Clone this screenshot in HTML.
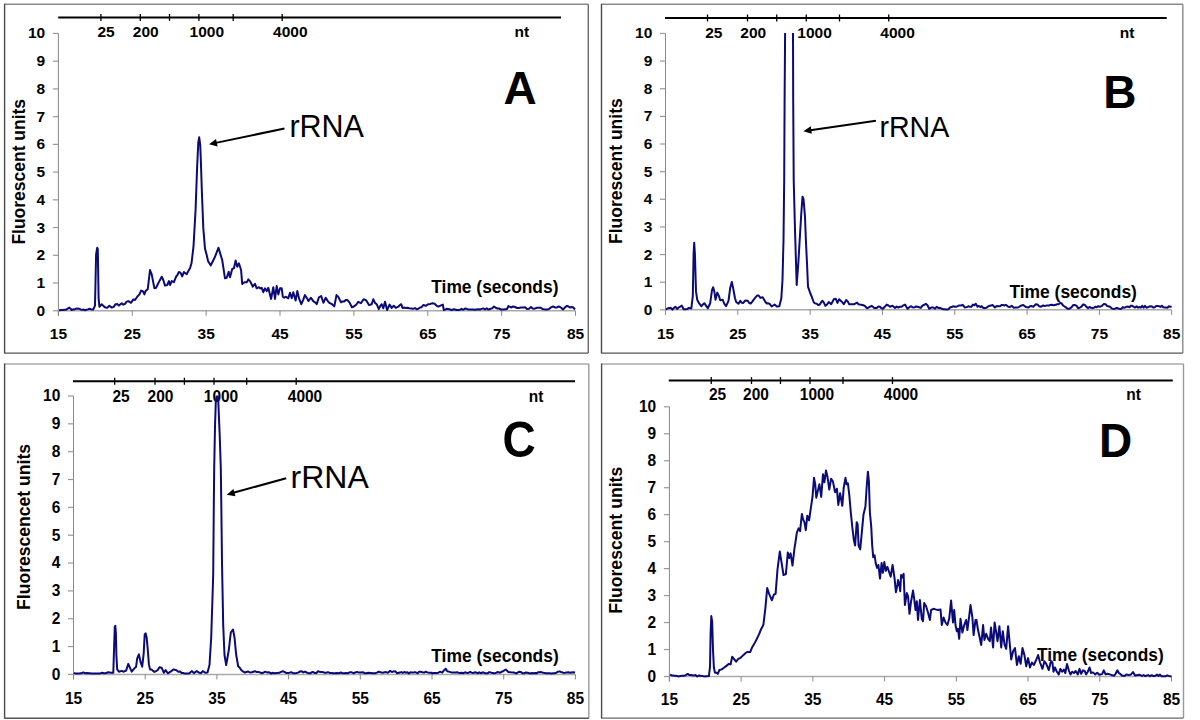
<!DOCTYPE html><html><head><meta charset="utf-8"><style>html,body{margin:0;padding:0;background:#fff;width:1200px;height:720px;overflow:hidden}svg{display:block}text{font-family:"Liberation Sans",sans-serif}</style></head><body>
<svg width="1200" height="720" viewBox="0 0 1200 720">
<rect width="1200" height="720" fill="#fff"/>
<defs><clipPath id="cA"><rect x="55.4" y="32.96" width="523.1" height="285.29"/></clipPath><clipPath id="cB"><rect x="662.5" y="32.96" width="512.2" height="284.39000000000004"/></clipPath><clipPath id="cC"><rect x="70.5" y="395.5" width="507.9" height="286.4"/></clipPath><clipPath id="cD"><rect x="666.4" y="406.3" width="508.1" height="277.7"/></clipPath></defs>
<line x1="4.6" y1="4.3" x2="588.3" y2="4.3" stroke="#8a8a8a" stroke-width="1.5"/>
<line x1="588.3" y1="4.3" x2="588.3" y2="353.1" stroke="#6a6a6a" stroke-width="1.4"/>
<line x1="4.6" y1="353.1" x2="588.3" y2="353.1" stroke="#555" stroke-width="1.4"/>
<line x1="4.6" y1="3.8" x2="4.6" y2="353.6" stroke="#4a4a4a" stroke-width="1.4"/>
<line x1="58.2" y1="17.4" x2="561" y2="17.4" stroke="#000" stroke-width="2"/>
<line x1="100.9" y1="13.899999999999999" x2="100.9" y2="20.9" stroke="#000" stroke-width="1.3"/>
<line x1="140.3" y1="13.899999999999999" x2="140.3" y2="20.9" stroke="#000" stroke-width="1.3"/>
<line x1="169.5" y1="13.899999999999999" x2="169.5" y2="20.9" stroke="#000" stroke-width="1.3"/>
<line x1="198.9" y1="13.899999999999999" x2="198.9" y2="20.9" stroke="#000" stroke-width="1.3"/>
<line x1="233.2" y1="13.899999999999999" x2="233.2" y2="20.9" stroke="#000" stroke-width="1.3"/>
<line x1="282.2" y1="13.899999999999999" x2="282.2" y2="20.9" stroke="#000" stroke-width="1.3"/>
<text transform="translate(106,37.4) scale(1,1.0)" font-size="15.5" font-weight="bold" text-anchor="middle">25</text>
<text transform="translate(145.7,37.4) scale(1,1.0)" font-size="15.5" font-weight="bold" text-anchor="middle">200</text>
<text transform="translate(206.8,37.4) scale(1,1.0)" font-size="15.5" font-weight="bold" text-anchor="middle">1000</text>
<text transform="translate(290.3,37.4) scale(1,1.0)" font-size="15.5" font-weight="bold" text-anchor="middle">4000</text>
<text transform="translate(521.9,37.4) scale(1,1.0)" font-size="15.5" font-weight="bold" text-anchor="middle">nt</text>
<line x1="58.4" y1="33.46" x2="58.4" y2="315.75" stroke="#888" stroke-width="1"/>
<line x1="52.9" y1="310.75" x2="58.4" y2="310.75" stroke="#999" stroke-width="1.2"/>
<text transform="translate(45.20,315.75) scale(1,1.0)" font-size="15.5" font-weight="bold" text-anchor="end">0</text>
<line x1="52.9" y1="283.02" x2="58.4" y2="283.02" stroke="#999" stroke-width="1.2"/>
<text transform="translate(45.20,288.02) scale(1,1.0)" font-size="15.5" font-weight="bold" text-anchor="end">1</text>
<line x1="52.9" y1="255.29" x2="58.4" y2="255.29" stroke="#999" stroke-width="1.2"/>
<text transform="translate(45.20,260.29) scale(1,1.0)" font-size="15.5" font-weight="bold" text-anchor="end">2</text>
<line x1="52.9" y1="227.56" x2="58.4" y2="227.56" stroke="#999" stroke-width="1.2"/>
<text transform="translate(45.20,232.56) scale(1,1.0)" font-size="15.5" font-weight="bold" text-anchor="end">3</text>
<line x1="52.9" y1="199.83" x2="58.4" y2="199.83" stroke="#999" stroke-width="1.2"/>
<text transform="translate(45.20,204.83) scale(1,1.0)" font-size="15.5" font-weight="bold" text-anchor="end">4</text>
<line x1="52.9" y1="172.10" x2="58.4" y2="172.10" stroke="#999" stroke-width="1.2"/>
<text transform="translate(45.20,177.10) scale(1,1.0)" font-size="15.5" font-weight="bold" text-anchor="end">5</text>
<line x1="52.9" y1="144.38" x2="58.4" y2="144.38" stroke="#999" stroke-width="1.2"/>
<text transform="translate(45.20,149.38) scale(1,1.0)" font-size="15.5" font-weight="bold" text-anchor="end">6</text>
<line x1="52.9" y1="116.65" x2="58.4" y2="116.65" stroke="#999" stroke-width="1.2"/>
<text transform="translate(45.20,121.65) scale(1,1.0)" font-size="15.5" font-weight="bold" text-anchor="end">7</text>
<line x1="52.9" y1="88.92" x2="58.4" y2="88.92" stroke="#999" stroke-width="1.2"/>
<text transform="translate(45.20,93.92) scale(1,1.0)" font-size="15.5" font-weight="bold" text-anchor="end">8</text>
<line x1="52.9" y1="61.19" x2="58.4" y2="61.19" stroke="#999" stroke-width="1.2"/>
<text transform="translate(45.20,66.19) scale(1,1.0)" font-size="15.5" font-weight="bold" text-anchor="end">9</text>
<line x1="52.9" y1="33.46" x2="58.4" y2="33.46" stroke="#999" stroke-width="1.2"/>
<text transform="translate(45.20,38.46) scale(1,1.0)" font-size="15.5" font-weight="bold" text-anchor="end">10</text>
<line x1="58.4" y1="310.75" x2="575.5" y2="310.75" stroke="#aaa" stroke-width="1.5"/>
<line x1="58.40" y1="310.75" x2="58.40" y2="315.75" stroke="#888" stroke-width="1"/>
<text transform="translate(58.40,339.30) scale(1,1.0)" font-size="15.5" font-weight="bold" text-anchor="middle">15</text>
<line x1="132.27" y1="310.75" x2="132.27" y2="315.75" stroke="#888" stroke-width="1"/>
<text transform="translate(132.27,339.30) scale(1,1.0)" font-size="15.5" font-weight="bold" text-anchor="middle">25</text>
<line x1="206.14" y1="310.75" x2="206.14" y2="315.75" stroke="#888" stroke-width="1"/>
<text transform="translate(206.14,339.30) scale(1,1.0)" font-size="15.5" font-weight="bold" text-anchor="middle">35</text>
<line x1="280.01" y1="310.75" x2="280.01" y2="315.75" stroke="#888" stroke-width="1"/>
<text transform="translate(280.01,339.30) scale(1,1.0)" font-size="15.5" font-weight="bold" text-anchor="middle">45</text>
<line x1="353.89" y1="310.75" x2="353.89" y2="315.75" stroke="#888" stroke-width="1"/>
<text transform="translate(353.89,339.30) scale(1,1.0)" font-size="15.5" font-weight="bold" text-anchor="middle">55</text>
<line x1="427.76" y1="310.75" x2="427.76" y2="315.75" stroke="#888" stroke-width="1"/>
<text transform="translate(427.76,339.30) scale(1,1.0)" font-size="15.5" font-weight="bold" text-anchor="middle">65</text>
<line x1="501.63" y1="310.75" x2="501.63" y2="315.75" stroke="#888" stroke-width="1"/>
<text transform="translate(501.63,339.30) scale(1,1.0)" font-size="15.5" font-weight="bold" text-anchor="middle">75</text>
<line x1="575.50" y1="310.75" x2="575.50" y2="315.75" stroke="#888" stroke-width="1"/>
<text transform="translate(575.50,339.30) scale(1,1.0)" font-size="15.5" font-weight="bold" text-anchor="middle">85</text>
<text transform="translate(24.5,244.6) rotate(-90)" font-size="17.5" font-weight="bold" textLength="145.7" lengthAdjust="spacingAndGlyphs">Fluorescent units</text>
<text x="431.25" y="292.9" font-size="17.5" font-weight="bold" textLength="127.2" lengthAdjust="spacingAndGlyphs">Time (seconds)</text>
<text transform="translate(503.6,103.9) scale(1,1.0)" font-size="46" font-weight="bold">A</text>
<text x="289.4" y="136.9" font-size="30.5">rRNA</text>
<line x1="284.5" y1="128.5" x2="215.85" y2="142.87" stroke="#000" stroke-width="2"/>
<polygon points="209,144.3 216.05,138.94 217.61,146.38" fill="#000"/>
<polyline clip-path="url(#cA)" points="59.0,310.2 60.0,310.2 61.5,310.1 63.0,310.0 64.5,309.8 66.0,309.8 67.7,308.7 69.4,307.6 71.7,310.0 73.2,309.3 74.6,309.4 76.1,308.7 77.6,308.4 79.0,308.7 80.5,309.4 82.0,309.7 83.5,309.6 85.0,310.2 87.8,309.4 89.6,308.7 91.5,309.6 93.3,309.4 95.0,305.6 96.1,254.4 97.2,247.8 97.8,248.9 98.6,297.8 99.4,306.7 101.7,304.2 103.9,306.4 105.6,307.6 107.2,307.8 109.4,305.8 111.7,307.6 113.7,306.9 115.6,304.2 117.2,304.1 118.9,305.6 121.7,303.3 123.3,304.7 125.0,303.9 126.7,301.6 128.3,301.1 131.1,302.8 133.3,299.4 135.0,300.0 137.2,296.7 139.4,294.4 141.1,290.6 142.8,291.1 144.4,294.4 145.6,290.9 147.8,288.9 150.0,270.0 151.7,274.4 154.4,288.3 156.1,287.8 157.8,284.2 159.4,281.1 161.7,276.7 163.3,280.0 165.0,285.6 167.2,285.0 168.9,281.1 170.0,285.0 171.7,281.1 173.9,282.2 176.1,276.7 177.5,274.8 178.9,272.0 180.6,272.8 182.2,276.4 183.9,272.0 186.7,274.2 188.3,271.1 190.0,268.3 191.5,263.3 193.5,246.7 195.6,209.2 197.1,167.5 198.3,142.5 199.2,137.3 200.2,144.6 200.8,159.2 201.9,192.5 203.3,227.9 205.0,248.8 206.7,255.0 208.1,261.3 210.8,265.4 213.3,260.2 214.9,257.0 216.5,252.9 218.5,247.7 220.0,252.9 222.2,260.0 223.6,269.1 225.0,278.3 226.7,277.8 228.7,271.7 230.0,277.2 231.1,273.3 232.2,268.9 233.9,268.3 235.6,260.6 237.2,266.7 238.9,263.3 241.1,270.0 242.2,283.9 244.4,282.2 246.7,282.2 248.3,279.4 250.0,281.1 251.4,283.8 252.8,286.7 255.0,283.9 256.7,288.3 258.9,287.2 260.3,288.4 261.7,287.8 263.3,292.2 265.0,288.3 266.7,291.1 268.3,287.8 269.7,293.4 271.1,298.9 273.3,287.2 275.0,298.9 276.7,286.1 278.3,294.4 280.0,288.3 281.7,288.3 282.8,296.7 284.2,297.7 285.6,296.7 288.3,298.3 290.0,292.8 291.7,298.3 293.3,292.2 295.6,300.6 297.3,291.1 299.1,298.7 301.3,304.2 303.1,300.1 304.9,295.1 306.7,297.7 308.5,301.0 310.8,297.7 313.5,301.4 315.1,302.4 316.7,304.2 318.9,297.4 321.2,296.0 323.4,302.8 325.7,297.7 327.5,300.6 329.3,302.8 332.0,304.2 334.3,306.4 336.5,295.1 338.3,296.9 341.0,302.3 342.6,301.4 344.2,301.4 345.8,300.1 347.3,300.1 349.2,301.9 351.9,307.3 354.6,306.0 356.4,304.5 358.2,301.9 360.9,303.2 363.6,299.2 366.3,300.5 369.0,305.1 371.7,304.2 373.3,299.2 375.0,302.9 376.7,304.2 378.8,309.2 380.2,306.2 381.7,304.2 383.3,308.3 385.0,301.7 387.1,310.0 389.6,304.6 391.7,307.9 393.8,305.8 395.8,307.9 398.3,306.7 399.8,305.1 401.2,304.2 402.5,307.9 404.1,307.6 405.8,307.9 407.5,307.7 409.2,308.3 411.2,308.4 413.3,308.8 415.0,308.1 416.7,309.2 418.4,308.7 420.0,307.5 421.6,307.2 423.3,305.0 425.8,305.8 428.3,304.2 430.4,303.9 432.5,303.2 434.6,303.7 436.7,305.8 438.4,306.6 440.0,305.8 441.4,305.2 442.9,304.6 443.8,310.0 445.2,309.6 446.7,308.8 449.2,309.2 451.7,310.0 454.2,309.2 456.7,310.0 458.4,309.9 460.0,309.8 461.6,308.8 463.3,309.8 465.0,308.6 466.7,308.8 468.4,309.6 470.0,309.5 471.7,309.6 473.3,309.5 475.0,309.8 476.7,309.4 478.3,309.2 480.0,309.5 481.7,308.9 483.3,308.4 485.0,309.5 486.7,308.3 488.3,309.6 490.0,309.0 492.0,308.4 494.0,306.5 496.0,308.0 497.5,308.5 499.0,308.5 501.0,309.5 503.5,309.5 505.2,309.2 507.0,309.0 508.5,306.0 511.0,307.5 513.0,306.5 515.0,307.0 517.0,308.0 519.0,308.0 521.0,307.6 523.0,307.5 525.0,307.3 527.0,309.0 529.0,308.8 531.0,307.0 533.0,308.8 535.0,308.5 537.0,307.8 539.0,307.8 540.7,307.7 542.3,308.9 544.0,309.2 545.7,309.4 547.3,309.6 549.0,309.0 551.0,307.4 553.0,306.5 555.0,307.4 557.0,307.5 558.5,306.4 560.0,307.0 561.5,308.0 563.0,309.5 565.0,307.4 567.0,305.8 568.5,306.5 570.0,307.5 571.5,307.0 573.0,307.2 575.0,309.5" fill="none" stroke="#0a0a78" stroke-width="2" stroke-linejoin="round"/>
<line x1="601.5" y1="4.3" x2="1182.8" y2="4.3" stroke="#8a8a8a" stroke-width="1.5"/>
<line x1="1182.8" y1="4.3" x2="1182.8" y2="353.1" stroke="#8a8a8a" stroke-width="1.4"/>
<line x1="601.5" y1="353.1" x2="1182.8" y2="353.1" stroke="#555" stroke-width="1.4"/>
<line x1="601.5" y1="3.8" x2="601.5" y2="353.6" stroke="#4a4a4a" stroke-width="1.4"/>
<line x1="665" y1="18" x2="1166.7" y2="18" stroke="#000" stroke-width="2"/>
<line x1="707.5" y1="14.5" x2="707.5" y2="21.5" stroke="#000" stroke-width="1.3"/>
<line x1="747.5" y1="14.5" x2="747.5" y2="21.5" stroke="#000" stroke-width="1.3"/>
<line x1="776.75" y1="14.5" x2="776.75" y2="21.5" stroke="#000" stroke-width="1.3"/>
<line x1="806.25" y1="14.5" x2="806.25" y2="21.5" stroke="#000" stroke-width="1.3"/>
<line x1="839.5" y1="14.5" x2="839.5" y2="21.5" stroke="#000" stroke-width="1.3"/>
<line x1="888.75" y1="14.5" x2="888.75" y2="21.5" stroke="#000" stroke-width="1.3"/>
<text transform="translate(713.8,38.0) scale(1,1.0)" font-size="15.5" font-weight="bold" text-anchor="middle">25</text>
<text transform="translate(753.3,38.0) scale(1,1.0)" font-size="15.5" font-weight="bold" text-anchor="middle">200</text>
<text transform="translate(814.5,38.0) scale(1,1.0)" font-size="15.5" font-weight="bold" text-anchor="middle">1000</text>
<text transform="translate(897.5,38.0) scale(1,1.0)" font-size="15.5" font-weight="bold" text-anchor="middle">4000</text>
<text transform="translate(1127,38.0) scale(1,1.0)" font-size="15.5" font-weight="bold" text-anchor="middle">nt</text>
<line x1="665.5" y1="33.46" x2="665.5" y2="314.85" stroke="#888" stroke-width="1"/>
<line x1="660.0" y1="309.85" x2="665.5" y2="309.85" stroke="#999" stroke-width="1.2"/>
<text transform="translate(652.30,314.85) scale(1,1.0)" font-size="15.5" font-weight="bold" text-anchor="end">0</text>
<line x1="660.0" y1="282.21" x2="665.5" y2="282.21" stroke="#999" stroke-width="1.2"/>
<text transform="translate(652.30,287.21) scale(1,1.0)" font-size="15.5" font-weight="bold" text-anchor="end">1</text>
<line x1="660.0" y1="254.57" x2="665.5" y2="254.57" stroke="#999" stroke-width="1.2"/>
<text transform="translate(652.30,259.57) scale(1,1.0)" font-size="15.5" font-weight="bold" text-anchor="end">2</text>
<line x1="660.0" y1="226.93" x2="665.5" y2="226.93" stroke="#999" stroke-width="1.2"/>
<text transform="translate(652.30,231.93) scale(1,1.0)" font-size="15.5" font-weight="bold" text-anchor="end">3</text>
<line x1="660.0" y1="199.29" x2="665.5" y2="199.29" stroke="#999" stroke-width="1.2"/>
<text transform="translate(652.30,204.29) scale(1,1.0)" font-size="15.5" font-weight="bold" text-anchor="end">4</text>
<line x1="660.0" y1="171.66" x2="665.5" y2="171.66" stroke="#999" stroke-width="1.2"/>
<text transform="translate(652.30,176.66) scale(1,1.0)" font-size="15.5" font-weight="bold" text-anchor="end">5</text>
<line x1="660.0" y1="144.02" x2="665.5" y2="144.02" stroke="#999" stroke-width="1.2"/>
<text transform="translate(652.30,149.02) scale(1,1.0)" font-size="15.5" font-weight="bold" text-anchor="end">6</text>
<line x1="660.0" y1="116.38" x2="665.5" y2="116.38" stroke="#999" stroke-width="1.2"/>
<text transform="translate(652.30,121.38) scale(1,1.0)" font-size="15.5" font-weight="bold" text-anchor="end">7</text>
<line x1="660.0" y1="88.74" x2="665.5" y2="88.74" stroke="#999" stroke-width="1.2"/>
<text transform="translate(652.30,93.74) scale(1,1.0)" font-size="15.5" font-weight="bold" text-anchor="end">8</text>
<line x1="660.0" y1="61.10" x2="665.5" y2="61.10" stroke="#999" stroke-width="1.2"/>
<text transform="translate(652.30,66.10) scale(1,1.0)" font-size="15.5" font-weight="bold" text-anchor="end">9</text>
<line x1="660.0" y1="33.46" x2="665.5" y2="33.46" stroke="#999" stroke-width="1.2"/>
<text transform="translate(652.30,38.46) scale(1,1.0)" font-size="15.5" font-weight="bold" text-anchor="end">10</text>
<line x1="665.5" y1="309.85" x2="1171.7" y2="309.85" stroke="#aaa" stroke-width="1.5"/>
<line x1="665.50" y1="309.85" x2="665.50" y2="314.85" stroke="#888" stroke-width="1"/>
<text transform="translate(665.50,338.60) scale(1,1.0)" font-size="15.5" font-weight="bold" text-anchor="middle">15</text>
<line x1="737.81" y1="309.85" x2="737.81" y2="314.85" stroke="#888" stroke-width="1"/>
<text transform="translate(737.81,338.60) scale(1,1.0)" font-size="15.5" font-weight="bold" text-anchor="middle">25</text>
<line x1="810.13" y1="309.85" x2="810.13" y2="314.85" stroke="#888" stroke-width="1"/>
<text transform="translate(810.13,338.60) scale(1,1.0)" font-size="15.5" font-weight="bold" text-anchor="middle">35</text>
<line x1="882.44" y1="309.85" x2="882.44" y2="314.85" stroke="#888" stroke-width="1"/>
<text transform="translate(882.44,338.60) scale(1,1.0)" font-size="15.5" font-weight="bold" text-anchor="middle">45</text>
<line x1="954.76" y1="309.85" x2="954.76" y2="314.85" stroke="#888" stroke-width="1"/>
<text transform="translate(954.76,338.60) scale(1,1.0)" font-size="15.5" font-weight="bold" text-anchor="middle">55</text>
<line x1="1027.07" y1="309.85" x2="1027.07" y2="314.85" stroke="#888" stroke-width="1"/>
<text transform="translate(1027.07,338.60) scale(1,1.0)" font-size="15.5" font-weight="bold" text-anchor="middle">65</text>
<line x1="1099.39" y1="309.85" x2="1099.39" y2="314.85" stroke="#888" stroke-width="1"/>
<text transform="translate(1099.39,338.60) scale(1,1.0)" font-size="15.5" font-weight="bold" text-anchor="middle">75</text>
<line x1="1171.70" y1="309.85" x2="1171.70" y2="314.85" stroke="#888" stroke-width="1"/>
<text transform="translate(1171.70,338.60) scale(1,1.0)" font-size="15.5" font-weight="bold" text-anchor="middle">85</text>
<text transform="translate(622,244) rotate(-90)" font-size="17.5" font-weight="bold" textLength="145.7" lengthAdjust="spacingAndGlyphs">Fluorescent units</text>
<text x="1009.4" y="297.5" font-size="17.5" font-weight="bold" textLength="127.5" lengthAdjust="spacingAndGlyphs">Time (seconds)</text>
<text transform="translate(1103.25,108.3) scale(1,1.0)" font-size="46" font-weight="bold">B</text>
<text x="879.4" y="136.6" font-size="28.6">rRNA</text>
<line x1="875.9" y1="120.7" x2="810.33" y2="130.20" stroke="#000" stroke-width="2"/>
<polygon points="803.4,131.2 810.77,126.29 811.86,133.81" fill="#000"/>
<polyline clip-path="url(#cB)" points="665.9,309.3 668.3,308.2 670.6,307.7 672.4,309.7 673.8,308.0 675.3,306.7 677.1,308.9 678.9,307.3 680.3,306.6 681.8,305.6 683.6,309.3 685.4,309.2 687.2,309.1 688.9,307.9 691.3,308.5 692.8,296.1 693.6,253.6 694.2,242.8 694.9,253.6 696.0,291.4 697.2,299.7 699.0,303.2 701.3,306.2 702.8,304.6 704.3,303.2 706.0,305.6 707.8,308.2 710.2,303.2 712.0,290.2 713.1,287.3 714.3,291.4 715.5,299.7 717.3,292.6 719.0,296.1 720.2,300.2 722.6,299.7 724.4,303.9 726.1,306.2 728.5,300.8 730.2,287.9 731.8,281.9 733.2,288.4 735.0,298.2 736.2,302.0 738.5,303.8 740.3,300.8 741.8,302.8 743.3,303.0 744.8,300.7 746.2,300.6 747.7,300.7 749.2,303.0 750.7,303.5 752.1,301.8 753.9,299.3 755.7,297.1 757.2,295.5 758.6,295.5 760.4,297.9 762.7,297.3 765.1,301.4 766.6,303.4 768.1,303.2 769.9,304.2 771.6,306.5 773.1,305.5 774.6,304.6 776.9,306.5 779.3,306.2 781.3,298.5 782.5,280.0 783.5,240.0 784.2,180.0 784.6,100.0 785.1,33.0 785.5,-20.0 787.0,-19.8 788.4,-19.5 789.9,-20.6 791.3,-19.7 792.8,-20.0 793.0,33.0 793.2,100.0 793.7,180.0 795.0,230.0 796.7,285.0 798.3,263.3 800.0,235.0 801.3,213.3 802.5,196.7 803.5,199.0 805.0,216.7 805.8,238.3 807.0,263.3 808.0,286.7 810.0,292.5 811.7,296.7 813.8,302.5 815.2,303.4 816.7,303.8 818.2,304.9 819.6,304.8 821.0,302.4 822.5,300.8 824.0,302.8 825.4,305.8 827.1,304.4 828.8,302.1 831.2,304.2 833.8,299.2 835.8,298.8 837.5,302.9 839.2,299.2 841.7,301.7 843.8,304.2 846.2,300.0 847.7,301.4 849.2,304.2 851.7,304.2 854.2,304.2 855.7,303.3 857.1,302.5 858.5,304.3 860.0,304.6 862.5,305.0 864.6,305.8 867.1,308.3 869.2,307.1 871.7,305.8 874.2,307.9 876.7,307.9 878.4,306.4 880.0,306.7 881.5,308.2 882.9,308.8 884.8,306.8 886.7,304.6 888.4,305.5 890.0,306.7 892.5,305.8 895.0,307.9 896.6,306.6 898.3,307.5 900.0,306.7 901.7,306.7 903.4,305.3 905.0,304.6 907.5,308.8 909.1,307.5 910.8,306.2 912.5,307.2 914.2,307.5 915.9,306.4 917.5,306.7 919.1,307.3 920.8,307.9 922.5,305.7 924.1,304.8 925.8,303.8 927.5,305.3 929.2,308.8 931.2,307.6 933.3,307.5 935.0,308.7 936.6,306.8 938.3,307.9 940.0,307.7 941.6,308.8 943.3,309.2 944.7,309.3 946.1,309.5 947.5,309.6 948.9,308.8 950.3,307.3 951.7,307.1 953.4,306.2 955.0,306.7 956.6,306.7 958.3,305.8 959.7,305.4 961.1,305.5 962.5,304.8 965.0,307.5 966.7,307.1 968.3,306.3 970.0,306.7 971.5,306.8 972.9,304.6 974.3,305.3 975.8,303.8 977.5,306.7 978.9,305.9 980.3,307.1 981.7,306.2 983.4,308.0 985.0,307.9 986.6,307.8 988.3,306.2 989.7,305.8 991.1,305.6 992.5,305.0 995.0,307.5 996.7,306.1 998.3,306.3 1000.0,306.2 1001.5,305.1 1002.9,304.9 1004.3,305.6 1005.8,304.8 1008.3,306.7 1010.0,306.9 1011.7,305.8 1013.8,307.7 1015.8,307.5 1017.2,307.4 1018.6,307.2 1020.0,306.2 1021.6,305.5 1023.3,305.0 1025.8,307.1 1027.2,307.2 1028.6,307.5 1030.0,306.2 1031.7,306.1 1033.3,306.7 1035.8,304.3 1037.5,304.6 1039.2,306.2 1041.2,306.7 1043.3,305.4 1044.7,306.1 1046.1,305.6 1047.5,305.4 1048.9,305.6 1050.3,304.9 1051.7,304.8 1053.8,305.2 1055.8,304.8 1057.2,304.2 1058.6,304.3 1060.0,302.9 1061.4,303.2 1062.8,305.1 1064.2,306.2 1065.9,307.4 1067.5,308.7 1069.2,308.8 1071.7,307.1 1073.2,305.1 1074.6,305.0 1076.4,305.6 1078.3,308.3 1079.8,307.6 1081.4,306.7 1082.9,304.6 1084.8,304.8 1086.7,307.1 1088.2,308.1 1089.6,306.9 1091.1,307.8 1092.5,307.9 1093.9,307.7 1095.3,306.7 1096.7,307.2 1098.3,306.2 1100.0,306.7 1102.0,305.8 1103.9,303.9 1105.6,304.2 1107.2,306.1 1110.0,306.7 1111.7,308.4 1113.3,308.9 1115.0,308.7 1116.7,307.8 1118.3,308.5 1120.0,308.9 1121.5,308.7 1122.9,307.1 1124.4,307.8 1126.7,306.7 1128.1,306.5 1129.5,307.3 1130.9,305.8 1132.3,305.7 1133.7,306.9 1135.1,307.6 1136.5,306.2 1138.0,307.7 1139.4,306.9 1140.8,307.7 1142.2,305.9 1143.6,307.7 1145.0,305.7 1146.4,307.7 1147.8,307.3 1149.2,306.6 1150.6,306.3 1152.0,306.6 1153.4,307.6 1154.8,307.3 1156.2,305.9 1157.6,305.9 1159.0,306.3 1160.5,306.9 1161.9,305.8 1163.3,307.3 1164.7,307.6 1166.1,307.5 1167.5,307.7 1168.9,306.2 1170.3,306.7 1171.7,306.7" fill="none" stroke="#0a0a78" stroke-width="2" stroke-linejoin="round"/>
<line x1="4.6" y1="364.0" x2="588.8" y2="364.0" stroke="#aaa" stroke-width="1.5"/>
<line x1="588.8" y1="364.0" x2="588.8" y2="718.2" stroke="#999" stroke-width="1.4"/>
<line x1="4.6" y1="718.2" x2="588.8" y2="718.2" stroke="#555" stroke-width="1.4"/>
<line x1="4.6" y1="363.5" x2="4.6" y2="718.7" stroke="#4a4a4a" stroke-width="1.4"/>
<line x1="73" y1="381.25" x2="575" y2="381.25" stroke="#000" stroke-width="2"/>
<line x1="114.7" y1="377.75" x2="114.7" y2="384.75" stroke="#000" stroke-width="1.3"/>
<line x1="155" y1="377.75" x2="155" y2="384.75" stroke="#000" stroke-width="1.3"/>
<line x1="184.4" y1="377.75" x2="184.4" y2="384.75" stroke="#000" stroke-width="1.3"/>
<line x1="214" y1="377.75" x2="214" y2="384.75" stroke="#000" stroke-width="1.3"/>
<line x1="246.7" y1="377.75" x2="246.7" y2="384.75" stroke="#000" stroke-width="1.3"/>
<line x1="296.2" y1="377.75" x2="296.2" y2="384.75" stroke="#000" stroke-width="1.3"/>
<text transform="translate(121,401.5) scale(1,1.07)" font-size="15.5" font-weight="bold" text-anchor="middle">25</text>
<text transform="translate(160.5,401.5) scale(1,1.07)" font-size="15.5" font-weight="bold" text-anchor="middle">200</text>
<text transform="translate(221,401.5) scale(1,1.07)" font-size="15.5" font-weight="bold" text-anchor="middle">1000</text>
<text transform="translate(305,401.5) scale(1,1.07)" font-size="15.5" font-weight="bold" text-anchor="middle">4000</text>
<text transform="translate(536,401.5) scale(1,1.07)" font-size="15.5" font-weight="bold" text-anchor="middle">nt</text>
<line x1="73.5" y1="396.0" x2="73.5" y2="679.4" stroke="#888" stroke-width="1"/>
<line x1="68.0" y1="674.40" x2="73.5" y2="674.40" stroke="#999" stroke-width="1.2"/>
<text transform="translate(60.30,679.70) scale(1,1.07)" font-size="15.5" font-weight="bold" text-anchor="end">0</text>
<line x1="68.0" y1="646.56" x2="73.5" y2="646.56" stroke="#999" stroke-width="1.2"/>
<text transform="translate(60.30,651.86) scale(1,1.07)" font-size="15.5" font-weight="bold" text-anchor="end">1</text>
<line x1="68.0" y1="618.72" x2="73.5" y2="618.72" stroke="#999" stroke-width="1.2"/>
<text transform="translate(60.30,624.02) scale(1,1.07)" font-size="15.5" font-weight="bold" text-anchor="end">2</text>
<line x1="68.0" y1="590.88" x2="73.5" y2="590.88" stroke="#999" stroke-width="1.2"/>
<text transform="translate(60.30,596.18) scale(1,1.07)" font-size="15.5" font-weight="bold" text-anchor="end">3</text>
<line x1="68.0" y1="563.04" x2="73.5" y2="563.04" stroke="#999" stroke-width="1.2"/>
<text transform="translate(60.30,568.34) scale(1,1.07)" font-size="15.5" font-weight="bold" text-anchor="end">4</text>
<line x1="68.0" y1="535.20" x2="73.5" y2="535.20" stroke="#999" stroke-width="1.2"/>
<text transform="translate(60.30,540.50) scale(1,1.07)" font-size="15.5" font-weight="bold" text-anchor="end">5</text>
<line x1="68.0" y1="507.36" x2="73.5" y2="507.36" stroke="#999" stroke-width="1.2"/>
<text transform="translate(60.30,512.66) scale(1,1.07)" font-size="15.5" font-weight="bold" text-anchor="end">6</text>
<line x1="68.0" y1="479.52" x2="73.5" y2="479.52" stroke="#999" stroke-width="1.2"/>
<text transform="translate(60.30,484.82) scale(1,1.07)" font-size="15.5" font-weight="bold" text-anchor="end">7</text>
<line x1="68.0" y1="451.68" x2="73.5" y2="451.68" stroke="#999" stroke-width="1.2"/>
<text transform="translate(60.30,456.98) scale(1,1.07)" font-size="15.5" font-weight="bold" text-anchor="end">8</text>
<line x1="68.0" y1="423.84" x2="73.5" y2="423.84" stroke="#999" stroke-width="1.2"/>
<text transform="translate(60.30,429.14) scale(1,1.07)" font-size="15.5" font-weight="bold" text-anchor="end">9</text>
<line x1="68.0" y1="396.00" x2="73.5" y2="396.00" stroke="#999" stroke-width="1.2"/>
<text transform="translate(60.30,401.30) scale(1,1.07)" font-size="15.5" font-weight="bold" text-anchor="end">10</text>
<line x1="73.5" y1="674.4" x2="575.4" y2="674.4" stroke="#aaa" stroke-width="1.5"/>
<line x1="73.50" y1="674.4" x2="73.50" y2="679.4" stroke="#888" stroke-width="1"/>
<text transform="translate(73.50,704.00) scale(1,1.07)" font-size="15.5" font-weight="bold" text-anchor="middle">15</text>
<line x1="145.20" y1="674.4" x2="145.20" y2="679.4" stroke="#888" stroke-width="1"/>
<text transform="translate(145.20,704.00) scale(1,1.07)" font-size="15.5" font-weight="bold" text-anchor="middle">25</text>
<line x1="216.90" y1="674.4" x2="216.90" y2="679.4" stroke="#888" stroke-width="1"/>
<text transform="translate(216.90,704.00) scale(1,1.07)" font-size="15.5" font-weight="bold" text-anchor="middle">35</text>
<line x1="288.60" y1="674.4" x2="288.60" y2="679.4" stroke="#888" stroke-width="1"/>
<text transform="translate(288.60,704.00) scale(1,1.07)" font-size="15.5" font-weight="bold" text-anchor="middle">45</text>
<line x1="360.30" y1="674.4" x2="360.30" y2="679.4" stroke="#888" stroke-width="1"/>
<text transform="translate(360.30,704.00) scale(1,1.07)" font-size="15.5" font-weight="bold" text-anchor="middle">55</text>
<line x1="432.00" y1="674.4" x2="432.00" y2="679.4" stroke="#888" stroke-width="1"/>
<text transform="translate(432.00,704.00) scale(1,1.07)" font-size="15.5" font-weight="bold" text-anchor="middle">65</text>
<line x1="503.70" y1="674.4" x2="503.70" y2="679.4" stroke="#888" stroke-width="1"/>
<text transform="translate(503.70,704.00) scale(1,1.07)" font-size="15.5" font-weight="bold" text-anchor="middle">75</text>
<line x1="575.40" y1="674.4" x2="575.40" y2="679.4" stroke="#888" stroke-width="1"/>
<text transform="translate(575.40,704.00) scale(1,1.07)" font-size="15.5" font-weight="bold" text-anchor="middle">85</text>
<text transform="translate(29.8,609.9) rotate(-90)" font-size="17.5" font-weight="bold" textLength="165.9" lengthAdjust="spacingAndGlyphs">Fluorescencet units</text>
<text x="431.25" y="661.9" font-size="17.5" font-weight="bold" textLength="127.5" lengthAdjust="spacingAndGlyphs">Time (seconds)</text>
<text transform="translate(502.4,456.6) scale(1.0,1.105)" font-size="46" font-weight="bold">C</text>
<text x="290.6" y="487.5" font-size="32">rRNA</text>
<line x1="286.2" y1="478.2" x2="233.45" y2="492.83" stroke="#000" stroke-width="2"/>
<polygon points="226.7,494.7 233.39,488.90 235.42,496.22" fill="#000"/>
<polyline clip-path="url(#cC)" points="73.9,672.8 75.6,673.6 77.2,673.6 78.9,673.6 80.4,673.2 81.8,673.2 83.3,672.4 85.0,673.2 86.7,673.1 89.4,673.3 92.2,673.6 93.9,673.6 95.6,673.4 97.2,673.4 98.9,673.6 100.6,673.2 102.2,672.8 103.9,673.2 105.6,673.3 108.3,672.2 111.1,672.8 113.3,672.8 114.2,644.4 114.8,626.7 115.3,625.8 115.9,633.3 116.4,655.6 117.2,669.4 118.9,671.7 121.7,670.9 123.3,671.7 126.1,670.6 128.3,663.9 130.0,667.8 131.7,671.7 133.9,668.9 136.1,666.7 137.2,658.3 138.9,654.4 140.6,662.2 142.2,666.7 143.7,653.3 144.7,634.4 145.6,633.3 146.7,637.8 147.8,650.0 148.9,664.4 150.0,669.4 151.4,669.4 152.8,670.6 154.4,671.9 156.1,671.1 157.8,670.0 159.4,667.2 161.7,667.8 163.9,672.8 165.6,670.0 167.8,673.3 170.6,671.7 173.3,669.4 176.1,670.0 178.3,671.7 180.0,671.5 181.7,673.1 183.2,672.9 184.6,673.4 186.1,673.6 187.8,673.5 189.4,673.3 191.7,671.1 193.9,673.1 196.7,671.1 199.4,672.8 201.1,673.0 202.8,671.1 205.6,672.8 207.5,672.5 209.5,665.0 211.2,637.5 213.2,575.0 213.8,505.0 214.2,468.3 215.0,426.7 215.8,401.7 216.5,397.0 217.2,395.6 217.8,397.0 218.3,401.7 219.7,435.0 220.8,468.3 221.3,505.0 222.0,562.5 223.2,625.0 224.5,655.0 226.2,665.0 228.8,650.0 230.8,632.5 233.0,629.5 234.5,637.5 236.2,655.0 238.2,666.2 239.8,667.8 241.2,670.0 243.1,671.6 245.0,672.5 246.7,671.8 248.3,671.5 250.0,672.5 251.7,672.2 253.3,671.7 255.0,671.2 257.0,672.1 258.5,671.9 260.0,672.4 261.5,673.2 263.0,672.8 265.3,671.7 267.0,672.4 268.7,672.2 271.2,673.5 272.6,672.8 274.1,673.2 276.9,672.9 279.3,672.8 281.1,671.9 282.8,671.3 284.4,671.9 286.0,672.9 288.3,673.1 289.8,672.6 291.3,672.2 293.5,673.3 294.9,673.2 296.4,673.0 298.1,672.6 299.8,671.6 301.6,671.2 303.3,672.4 305.0,671.6 306.7,672.5 308.4,673.2 310.2,673.3 312.5,671.9 315.0,673.0 316.4,673.1 317.8,671.3 320.4,672.0 321.8,671.9 323.2,672.3 324.7,672.7 326.2,672.8 327.9,672.1 329.7,672.9 331.4,673.0 333.2,673.2 334.9,673.2 336.7,672.9 339.2,673.2 340.9,672.5 342.7,673.3 344.2,673.2 345.7,673.0 348.2,673.2 349.7,672.3 351.2,672.2 353.5,673.2 355.3,672.5 357.1,671.9 358.8,672.6 360.4,672.4 362.8,672.2 364.5,673.2 366.1,673.3 368.4,672.8 370.6,673.0 373.3,673.3 375.1,673.2 376.9,672.6 378.7,671.7 380.5,672.3 382.8,672.8 385.0,672.1 386.4,672.2 387.8,672.8 390.2,670.9 391.9,672.0 393.6,671.4 395.4,671.3 397.2,673.3 399.9,672.5 401.4,672.1 402.8,672.9 404.4,672.0 405.9,672.7 407.4,672.2 408.9,673.4 410.4,672.2 411.8,672.5 413.4,672.6 415.0,672.1 417.7,673.2 419.1,671.7 420.6,671.7 422.8,672.4 424.3,672.6 425.8,671.7 427.4,672.4 428.9,672.8 431.2,672.8 432.6,673.2 434.0,672.9 436.7,673.0 438.3,672.8 439.9,671.7 442.2,672.7 444.0,670.3 445.8,668.8 447.2,671.3 448.6,671.6 451.3,672.4 453.9,672.4 455.4,672.6 456.9,672.2 458.3,672.6 459.7,673.1 461.9,672.7 463.5,673.2 465.1,672.3 467.6,673.1 470.2,672.0 471.6,672.6 473.0,673.0 475.3,672.3 478.0,673.2 479.4,672.3 480.8,673.2 483.2,672.3 484.8,673.2 486.4,673.3 487.8,673.2 489.2,672.1 491.6,672.7 494.0,673.2 495.7,673.1 497.4,672.0 500.0,672.7 501.6,671.8 503.1,671.2 505.8,669.5 508.4,671.9 511.0,672.3 513.7,672.5 516.5,673.4 518.9,671.7 520.7,671.9 522.5,673.3 524.2,673.2 526.0,672.5 527.8,672.7 529.6,673.4 532.1,673.0 533.8,673.2 535.4,672.9 536.9,673.2 538.4,672.2 541.1,672.1 543.3,672.8 546.0,673.2 548.2,673.3 549.8,673.3 551.4,673.4 553.1,673.3 554.8,673.3 556.3,672.8 557.8,671.7 559.5,671.4 561.1,672.0 563.7,672.9 565.2,672.8 566.6,672.4 568.4,672.2 570.2,672.8 572.8,672.2 575.0,672.6" fill="none" stroke="#0a0a78" stroke-width="2" stroke-linejoin="round"/>
<line x1="601.6" y1="364.0" x2="1183.5" y2="364.0" stroke="#aaa" stroke-width="1.5"/>
<line x1="1183.5" y1="364.0" x2="1183.5" y2="718.1" stroke="#999" stroke-width="1.4"/>
<line x1="601.6" y1="718.1" x2="1183.5" y2="718.1" stroke="#666" stroke-width="1.4"/>
<line x1="601.6" y1="363.5" x2="601.6" y2="718.6" stroke="#4a4a4a" stroke-width="1.4"/>
<line x1="668.75" y1="380.6" x2="1172.8" y2="380.6" stroke="#000" stroke-width="2"/>
<line x1="711.25" y1="377.1" x2="711.25" y2="384.1" stroke="#000" stroke-width="1.3"/>
<line x1="751.5" y1="377.1" x2="751.5" y2="384.1" stroke="#000" stroke-width="1.3"/>
<line x1="780.5" y1="377.1" x2="780.5" y2="384.1" stroke="#000" stroke-width="1.3"/>
<line x1="810" y1="377.1" x2="810" y2="384.1" stroke="#000" stroke-width="1.3"/>
<line x1="843" y1="377.1" x2="843" y2="384.1" stroke="#000" stroke-width="1.3"/>
<line x1="892.5" y1="377.1" x2="892.5" y2="384.1" stroke="#000" stroke-width="1.3"/>
<text transform="translate(717.5,400) scale(1,1.04)" font-size="15.5" font-weight="bold" text-anchor="middle">25</text>
<text transform="translate(756,400) scale(1,1.04)" font-size="15.5" font-weight="bold" text-anchor="middle">200</text>
<text transform="translate(817,400) scale(1,1.04)" font-size="15.5" font-weight="bold" text-anchor="middle">1000</text>
<text transform="translate(901,400) scale(1,1.04)" font-size="15.5" font-weight="bold" text-anchor="middle">4000</text>
<text transform="translate(1133.6,400) scale(1,1.04)" font-size="15.5" font-weight="bold" text-anchor="middle">nt</text>
<line x1="669.4" y1="406.8" x2="669.4" y2="681.5" stroke="#888" stroke-width="1"/>
<line x1="663.9" y1="676.50" x2="669.4" y2="676.50" stroke="#999" stroke-width="1.2"/>
<text transform="translate(656.20,681.70) scale(1,1.04)" font-size="15.5" font-weight="bold" text-anchor="end">0</text>
<line x1="663.9" y1="649.53" x2="669.4" y2="649.53" stroke="#999" stroke-width="1.2"/>
<text transform="translate(656.20,654.73) scale(1,1.04)" font-size="15.5" font-weight="bold" text-anchor="end">1</text>
<line x1="663.9" y1="622.56" x2="669.4" y2="622.56" stroke="#999" stroke-width="1.2"/>
<text transform="translate(656.20,627.76) scale(1,1.04)" font-size="15.5" font-weight="bold" text-anchor="end">2</text>
<line x1="663.9" y1="595.59" x2="669.4" y2="595.59" stroke="#999" stroke-width="1.2"/>
<text transform="translate(656.20,600.79) scale(1,1.04)" font-size="15.5" font-weight="bold" text-anchor="end">3</text>
<line x1="663.9" y1="568.62" x2="669.4" y2="568.62" stroke="#999" stroke-width="1.2"/>
<text transform="translate(656.20,573.82) scale(1,1.04)" font-size="15.5" font-weight="bold" text-anchor="end">4</text>
<line x1="663.9" y1="541.65" x2="669.4" y2="541.65" stroke="#999" stroke-width="1.2"/>
<text transform="translate(656.20,546.85) scale(1,1.04)" font-size="15.5" font-weight="bold" text-anchor="end">5</text>
<line x1="663.9" y1="514.68" x2="669.4" y2="514.68" stroke="#999" stroke-width="1.2"/>
<text transform="translate(656.20,519.88) scale(1,1.04)" font-size="15.5" font-weight="bold" text-anchor="end">6</text>
<line x1="663.9" y1="487.71" x2="669.4" y2="487.71" stroke="#999" stroke-width="1.2"/>
<text transform="translate(656.20,492.91) scale(1,1.04)" font-size="15.5" font-weight="bold" text-anchor="end">7</text>
<line x1="663.9" y1="460.74" x2="669.4" y2="460.74" stroke="#999" stroke-width="1.2"/>
<text transform="translate(656.20,465.94) scale(1,1.04)" font-size="15.5" font-weight="bold" text-anchor="end">8</text>
<line x1="663.9" y1="433.77" x2="669.4" y2="433.77" stroke="#999" stroke-width="1.2"/>
<text transform="translate(656.20,438.97) scale(1,1.04)" font-size="15.5" font-weight="bold" text-anchor="end">9</text>
<line x1="663.9" y1="406.80" x2="669.4" y2="406.80" stroke="#999" stroke-width="1.2"/>
<text transform="translate(656.20,412.00) scale(1,1.04)" font-size="15.5" font-weight="bold" text-anchor="end">10</text>
<line x1="669.4" y1="676.5" x2="1171.5" y2="676.5" stroke="#aaa" stroke-width="1.5"/>
<line x1="669.40" y1="676.5" x2="669.40" y2="681.5" stroke="#888" stroke-width="1"/>
<text transform="translate(669.40,705.05) scale(1,1.04)" font-size="15.5" font-weight="bold" text-anchor="middle">15</text>
<line x1="741.13" y1="676.5" x2="741.13" y2="681.5" stroke="#888" stroke-width="1"/>
<text transform="translate(741.13,705.05) scale(1,1.04)" font-size="15.5" font-weight="bold" text-anchor="middle">25</text>
<line x1="812.86" y1="676.5" x2="812.86" y2="681.5" stroke="#888" stroke-width="1"/>
<text transform="translate(812.86,705.05) scale(1,1.04)" font-size="15.5" font-weight="bold" text-anchor="middle">35</text>
<line x1="884.59" y1="676.5" x2="884.59" y2="681.5" stroke="#888" stroke-width="1"/>
<text transform="translate(884.59,705.05) scale(1,1.04)" font-size="15.5" font-weight="bold" text-anchor="middle">45</text>
<line x1="956.31" y1="676.5" x2="956.31" y2="681.5" stroke="#888" stroke-width="1"/>
<text transform="translate(956.31,705.05) scale(1,1.04)" font-size="15.5" font-weight="bold" text-anchor="middle">55</text>
<line x1="1028.04" y1="676.5" x2="1028.04" y2="681.5" stroke="#888" stroke-width="1"/>
<text transform="translate(1028.04,705.05) scale(1,1.04)" font-size="15.5" font-weight="bold" text-anchor="middle">65</text>
<line x1="1099.77" y1="676.5" x2="1099.77" y2="681.5" stroke="#888" stroke-width="1"/>
<text transform="translate(1099.77,705.05) scale(1,1.04)" font-size="15.5" font-weight="bold" text-anchor="middle">75</text>
<line x1="1171.50" y1="676.5" x2="1171.50" y2="681.5" stroke="#888" stroke-width="1"/>
<text transform="translate(1171.50,705.05) scale(1,1.04)" font-size="15.5" font-weight="bold" text-anchor="middle">85</text>
<text transform="translate(622.2,613.8) rotate(-90)" font-size="17.5" font-weight="bold" textLength="147.1" lengthAdjust="spacingAndGlyphs">Fluorescent units</text>
<text x="1036.9" y="661.25" font-size="17.5" font-weight="bold" textLength="126.8" lengthAdjust="spacingAndGlyphs">Time (seconds)</text>
<text transform="translate(1099.1,457.3) scale(1.0,1.035)" font-size="46" font-weight="bold">D</text>
<polyline clip-path="url(#cD)" points="670.0,674.7 672.8,675.6 674.5,675.7 676.1,675.8 678.9,676.4 680.3,675.9 681.7,675.8 683.4,675.7 685.0,675.6 687.8,673.9 689.2,675.0 690.6,675.0 692.2,675.3 693.9,675.6 695.5,675.0 697.2,676.4 698.9,675.5 700.6,675.8 702.2,675.9 703.9,676.4 705.6,676.3 707.2,676.2 708.9,676.1 710.0,666.7 710.6,633.3 711.3,616.1 712.2,622.2 713.0,650.0 713.9,667.8 715.0,672.8 716.7,672.8 717.8,673.9 719.4,670.0 721.7,669.4 723.9,667.8 726.1,666.1 728.9,663.9 730.6,664.4 732.2,656.7 733.9,658.9 736.1,661.7 738.3,658.9 740.6,657.8 742.8,655.6 743.8,654.7 745.6,653.0 747.5,651.9 750.3,651.9 752.2,647.2 755.0,642.5 757.8,636.9 759.2,633.9 760.6,630.3 763.4,624.7 765.3,608.8 767.2,588.1 769.1,593.8 771.9,600.3 773.8,594.7 775.6,593.8 777.5,569.4 779.8,551.6 781.6,562.8 783.5,575.0 785.9,574.1 787.8,552.5 789.1,558.1 790.6,553.4 792.5,565.6 794.4,548.8 795.5,542.0 796.8,532.9 798.6,528.4 800.1,531.1 801.9,513.9 803.1,519.4 804.4,522.1 805.8,530.2 807.3,515.7 809.1,520.3 810.9,507.6 812.5,496.8 814.0,477.8 815.2,484.2 816.3,497.7 818.1,489.6 819.4,484.2 821.2,496.8 823.0,474.2 824.4,482.3 826.0,470.6 827.5,476.9 829.3,489.6 831.1,478.7 832.9,481.4 835.1,492.3 836.9,488.7 838.3,504.9 840.1,493.2 842.3,505.8 843.7,487.8 845.5,477.8 846.6,484.3 847.9,483.3 849.3,495.0 850.8,512.5 852.4,528.0 853.8,539.7 855.1,545.6 856.7,522.2 857.6,524.2 858.6,545.6 860.2,549.4 861.5,535.8 863.5,514.4 865.4,506.7 866.8,485.3 867.9,471.7 868.9,481.4 869.9,512.5 871.2,526.1 872.2,545.6 873.2,557.2 874.6,555.3 875.7,563.1 877.1,567.9 878.4,565.0 880.0,578.6 881.6,563.1 882.9,572.8 884.3,562.1 885.8,570.8 887.4,566.9 888.7,570.8 890.7,576.7 892.6,565.0 894.6,578.6 895.9,592.2 897.5,584.4 898.0,580.0 899.2,583.8 900.2,591.2 901.1,575.0 902.4,577.5 903.6,573.8 904.9,605.0 906.8,593.1 908.0,596.2 909.5,613.8 911.1,601.2 913.0,590.6 914.2,598.8 915.5,610.0 916.8,601.2 918.0,620.0 919.9,600.0 921.8,618.8 923.0,621.2 924.2,603.1 926.1,606.2 928.0,612.5 929.9,620.0 931.1,610.0 933.6,608.8 935.5,609.4 938.0,610.0 940.5,609.4 941.8,625.0 943.6,617.5 945.5,622.5 947.4,625.0 949.2,618.8 951.1,600.6 953.0,622.5 954.2,610.0 955.5,625.0 956.8,631.2 958.0,628.8 959.2,638.8 960.5,618.8 962.4,632.5 964.2,625.0 966.1,620.0 967.4,630.0 969.2,616.2 970.5,605.0 972.4,617.5 973.6,635.0 975.5,620.0 976.5,620.0 977.8,628.8 979.4,636.2 981.2,645.0 983.1,625.0 984.4,640.0 986.2,633.8 988.1,638.8 989.8,641.2 991.0,627.5 993.1,647.5 994.6,622.5 996.2,632.5 997.5,641.2 999.4,626.2 1001.2,647.5 1002.8,631.2 1004.4,643.8 1006.2,648.8 1008.1,626.2 1009.4,640.0 1011.2,659.4 1013.1,651.2 1015.0,648.1 1016.9,665.0 1018.8,656.2 1020.6,663.8 1022.5,648.1 1024.4,655.0 1026.2,666.2 1028.1,658.1 1030.0,667.5 1031.9,662.5 1033.8,665.0 1036.2,660.0 1038.1,655.0 1040.0,662.5 1042.5,668.8 1044.4,661.2 1046.2,663.8 1048.8,670.0 1050.6,662.5 1051.4,661.2 1052.4,662.6 1053.5,671.7 1054.9,667.5 1056.9,671.7 1058.7,674.4 1060.4,668.9 1062.2,671.7 1063.9,669.6 1065.3,673.0 1067.0,664.0 1068.8,670.3 1070.5,674.4 1072.2,671.7 1074.0,673.0 1075.7,671.0 1077.8,674.4 1079.5,668.9 1081.2,673.8 1083.0,670.3 1084.7,671.0 1086.1,674.4 1087.8,671.7 1089.6,667.5 1091.0,673.0 1093.0,672.4 1095.1,674.4 1097.2,672.7 1099.3,674.8 1102.1,674.1 1103.8,670.3 1105.6,674.4 1107.6,673.8 1109.7,674.4 1111.8,675.1 1113.9,675.8 1115.6,673.8 1117.4,670.3 1118.8,673.0 1120.1,673.8 1122.2,675.8 1125.0,675.8 1126.4,674.4 1128.5,675.1 1131.0,674.5 1133.0,672.0 1135.0,675.5 1136.5,675.2 1138.0,675.0 1140.0,674.8 1142.0,676.0 1143.6,675.0 1145.2,676.1 1146.8,675.5 1148.4,675.1 1150.0,676.2 1151.7,675.2 1153.3,676.0 1155.0,676.0 1157.0,674.6 1158.5,676.0 1160.0,674.6 1161.5,676.2 1162.9,676.2 1164.4,676.2 1165.8,676.2 1167.2,675.3 1168.6,675.9 1170.1,676.3 1171.5,676.3" fill="none" stroke="#0a0a78" stroke-width="2" stroke-linejoin="round"/>
</svg></body></html>
